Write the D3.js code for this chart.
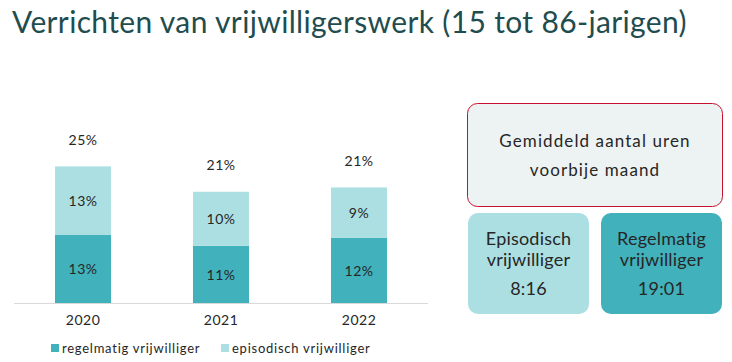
<!DOCTYPE html>
<html>
<head>
<meta charset="utf-8">
<script src="https://cdn.jsdelivr.net/npm/d3@7/dist/d3.min.js"></script>
<style>
    body { margin: 0; background: #fff; }
    svg { display: block; font-family: Lato, "Open Sans", sans-serif; }
</style>
</head>
<body>
<svg id="chart" width="732" height="362"></svg>
<script>
// data
var jaren = ["2020", "2021", "2022"];
var regelmatig = [12.6, 10.6, 12.1];
var episodisch = [12.7, 10.0, 9.3];
var reeksen = ["regelmatig vrijwilliger", "episodisch vrijwilliger"];
var uren = ["8:16", "19:01"];
var urenTitels = [["Episodisch", "vrijwilliger"], ["Regelmatig", "vrijwilliger"]];

var kleurRegel = "#41b1bc",
    kleurEpi = "#acdfe2",
    tekst = "#262626";

var svg = d3.select("#chart");

svg.append("text")
    .attr("x", 12)
    .attr("y", 33)
    .attr("fill", "#1f4d4f")
    .attr("font-size", 30)
    .attr("letter-spacing", 0.35)
    .text("Verrichten van vrijwilligerswerk (15 tot 86-jarigen)");

var x = d3.scaleBand()
    .domain(jaren)
    .range([14, 428])
    .paddingInner(0.594)
    .paddingOuter(0.297);

var y = d3.scaleLinear()
    .domain([0, 30])
    .range([303, 141]);

var rows = jaren.map(function (j, i) {
    return { jaar: j, reg: regelmatig[i], epi: episodisch[i] };
});

// axis line
svg.append("line")
    .attr("x1", 14).attr("x2", 428)
    .attr("y1", y(0) + 0.5).attr("y2", y(0) + 0.5)
    .attr("stroke", "#d9d9d9");

var bars = svg.selectAll("g.bar")
    .data(rows)
    .enter()
    .append("g")
    .attr("class", "bar");

bars.append("rect")
    .attr("x", function (d) { return x(d.jaar); })
    .attr("width", x.bandwidth())
    .attr("y", function (d) { return y(d.reg); })
    .attr("height", function (d) { return y(0) - y(d.reg); })
    .attr("fill", kleurRegel);

bars.append("rect")
    .attr("x", function (d) { return x(d.jaar); })
    .attr("width", x.bandwidth())
    .attr("y", function (d) { return y(d.reg + d.epi); })
    .attr("height", function (d) { return y(d.reg) - y(d.reg + d.epi); })
    .attr("fill", kleurEpi);

var mid = function (d) { return x(d.jaar) + x.bandwidth() / 2; };

var label = function (sel) {
    sel.attr("text-anchor", "middle")
        .attr("dominant-baseline", "central")
        .attr("font-size", 14)
        .attr("letter-spacing", 0.5)
        .attr("fill", tekst);
};

bars.append("text")
    .call(label)
    .attr("x", mid)
    .attr("y", function (d) { return (y(0) + y(d.reg)) / 2; })
    .text(function (d) { return Math.round(d.reg) + "%"; });

bars.append("text")
    .call(label)
    .attr("x", mid)
    .attr("y", function (d) { return (y(d.reg) + y(d.reg + d.epi)) / 2; })
    .text(function (d) { return Math.round(d.epi) + "%"; });

bars.append("text")
    .call(label)
    .attr("x", mid)
    .attr("y", function (d) { return y(d.reg + d.epi) - 27; })
    .text(function (d) { return Math.round(d.reg + d.epi) + "%"; });

// category axis
svg.append("g")
    .attr("transform", "translate(0," + y(0) + ")")
    .call(d3.axisBottom(x).tickSize(0).tickPadding(12))
    .call(function (g) {
        g.select(".domain").remove();
        g.selectAll("text")
            .attr("font-size", 14)
            .attr("letter-spacing", 0.5)
            .attr("font-family", "Lato, sans-serif")
            .attr("fill", tekst);
    });

// legend
var legX = [51, 221];
var leg = svg.selectAll("g.leg")
    .data(reeksen)
    .enter()
    .append("g")
    .attr("class", "leg")
    .attr("transform", function (d, i) { return "translate(" + legX[i] + ",348)"; });

leg.append("rect")
    .attr("x", 0).attr("y", -4)
    .attr("width", 8).attr("height", 8)
    .attr("fill", function (d, i) { return i === 0 ? kleurRegel : kleurEpi; });

leg.append("text")
    .attr("x", 11)
    .attr("dominant-baseline", "central")
    .attr("font-size", 13)
    .attr("letter-spacing", 0.75)
    .attr("fill", tekst)
    .text(function (d) { return d; });

// info boxes
svg.append("rect")
    .attr("x", 467.5).attr("y", 103.5)
    .attr("width", 255).attr("height", 103)
    .attr("rx", 10)
    .attr("fill", "#edf2f2")
    .attr("stroke", "#c8102e")
    .attr("stroke-width", 1);

svg.selectAll("text.kop")
    .data(["Gemiddeld aantal uren", "voorbije maand"])
    .enter()
    .append("text")
    .attr("class", "kop")
    .attr("x", 595)
    .attr("y", function (d, i) { return 140 + i * 29; })
    .attr("text-anchor", "middle")
    .attr("dominant-baseline", "central")
    .attr("font-size", 17)
    .attr("letter-spacing", 1.1)
    .attr("fill", tekst)
    .text(function (d) { return d; });

var boxX = [468, 601];
var box = svg.selectAll("g.box")
    .data(uren)
    .enter()
    .append("g")
    .attr("class", "box")
    .attr("transform", function (d, i) { return "translate(" + boxX[i] + ",213)"; });

box.append("rect")
    .attr("width", 121).attr("height", 101)
    .attr("rx", 10)
    .attr("fill", function (d, i) { return i === 0 ? kleurEpi : kleurRegel; });

box.each(function (d, i) {
    var g = d3.select(this);
    urenTitels[i].concat([d]).forEach(function (t, k) {
        g.append("text")
            .attr("x", 60.5)
            .attr("y", [25, 46, 75][k])
            .attr("text-anchor", "middle")
            .attr("dominant-baseline", "central")
            .attr("font-size", 18)
            .attr("letter-spacing", 0.2)
            .attr("fill", tekst)
            .text(t);
    });
});
</script>
</body>
</html>
